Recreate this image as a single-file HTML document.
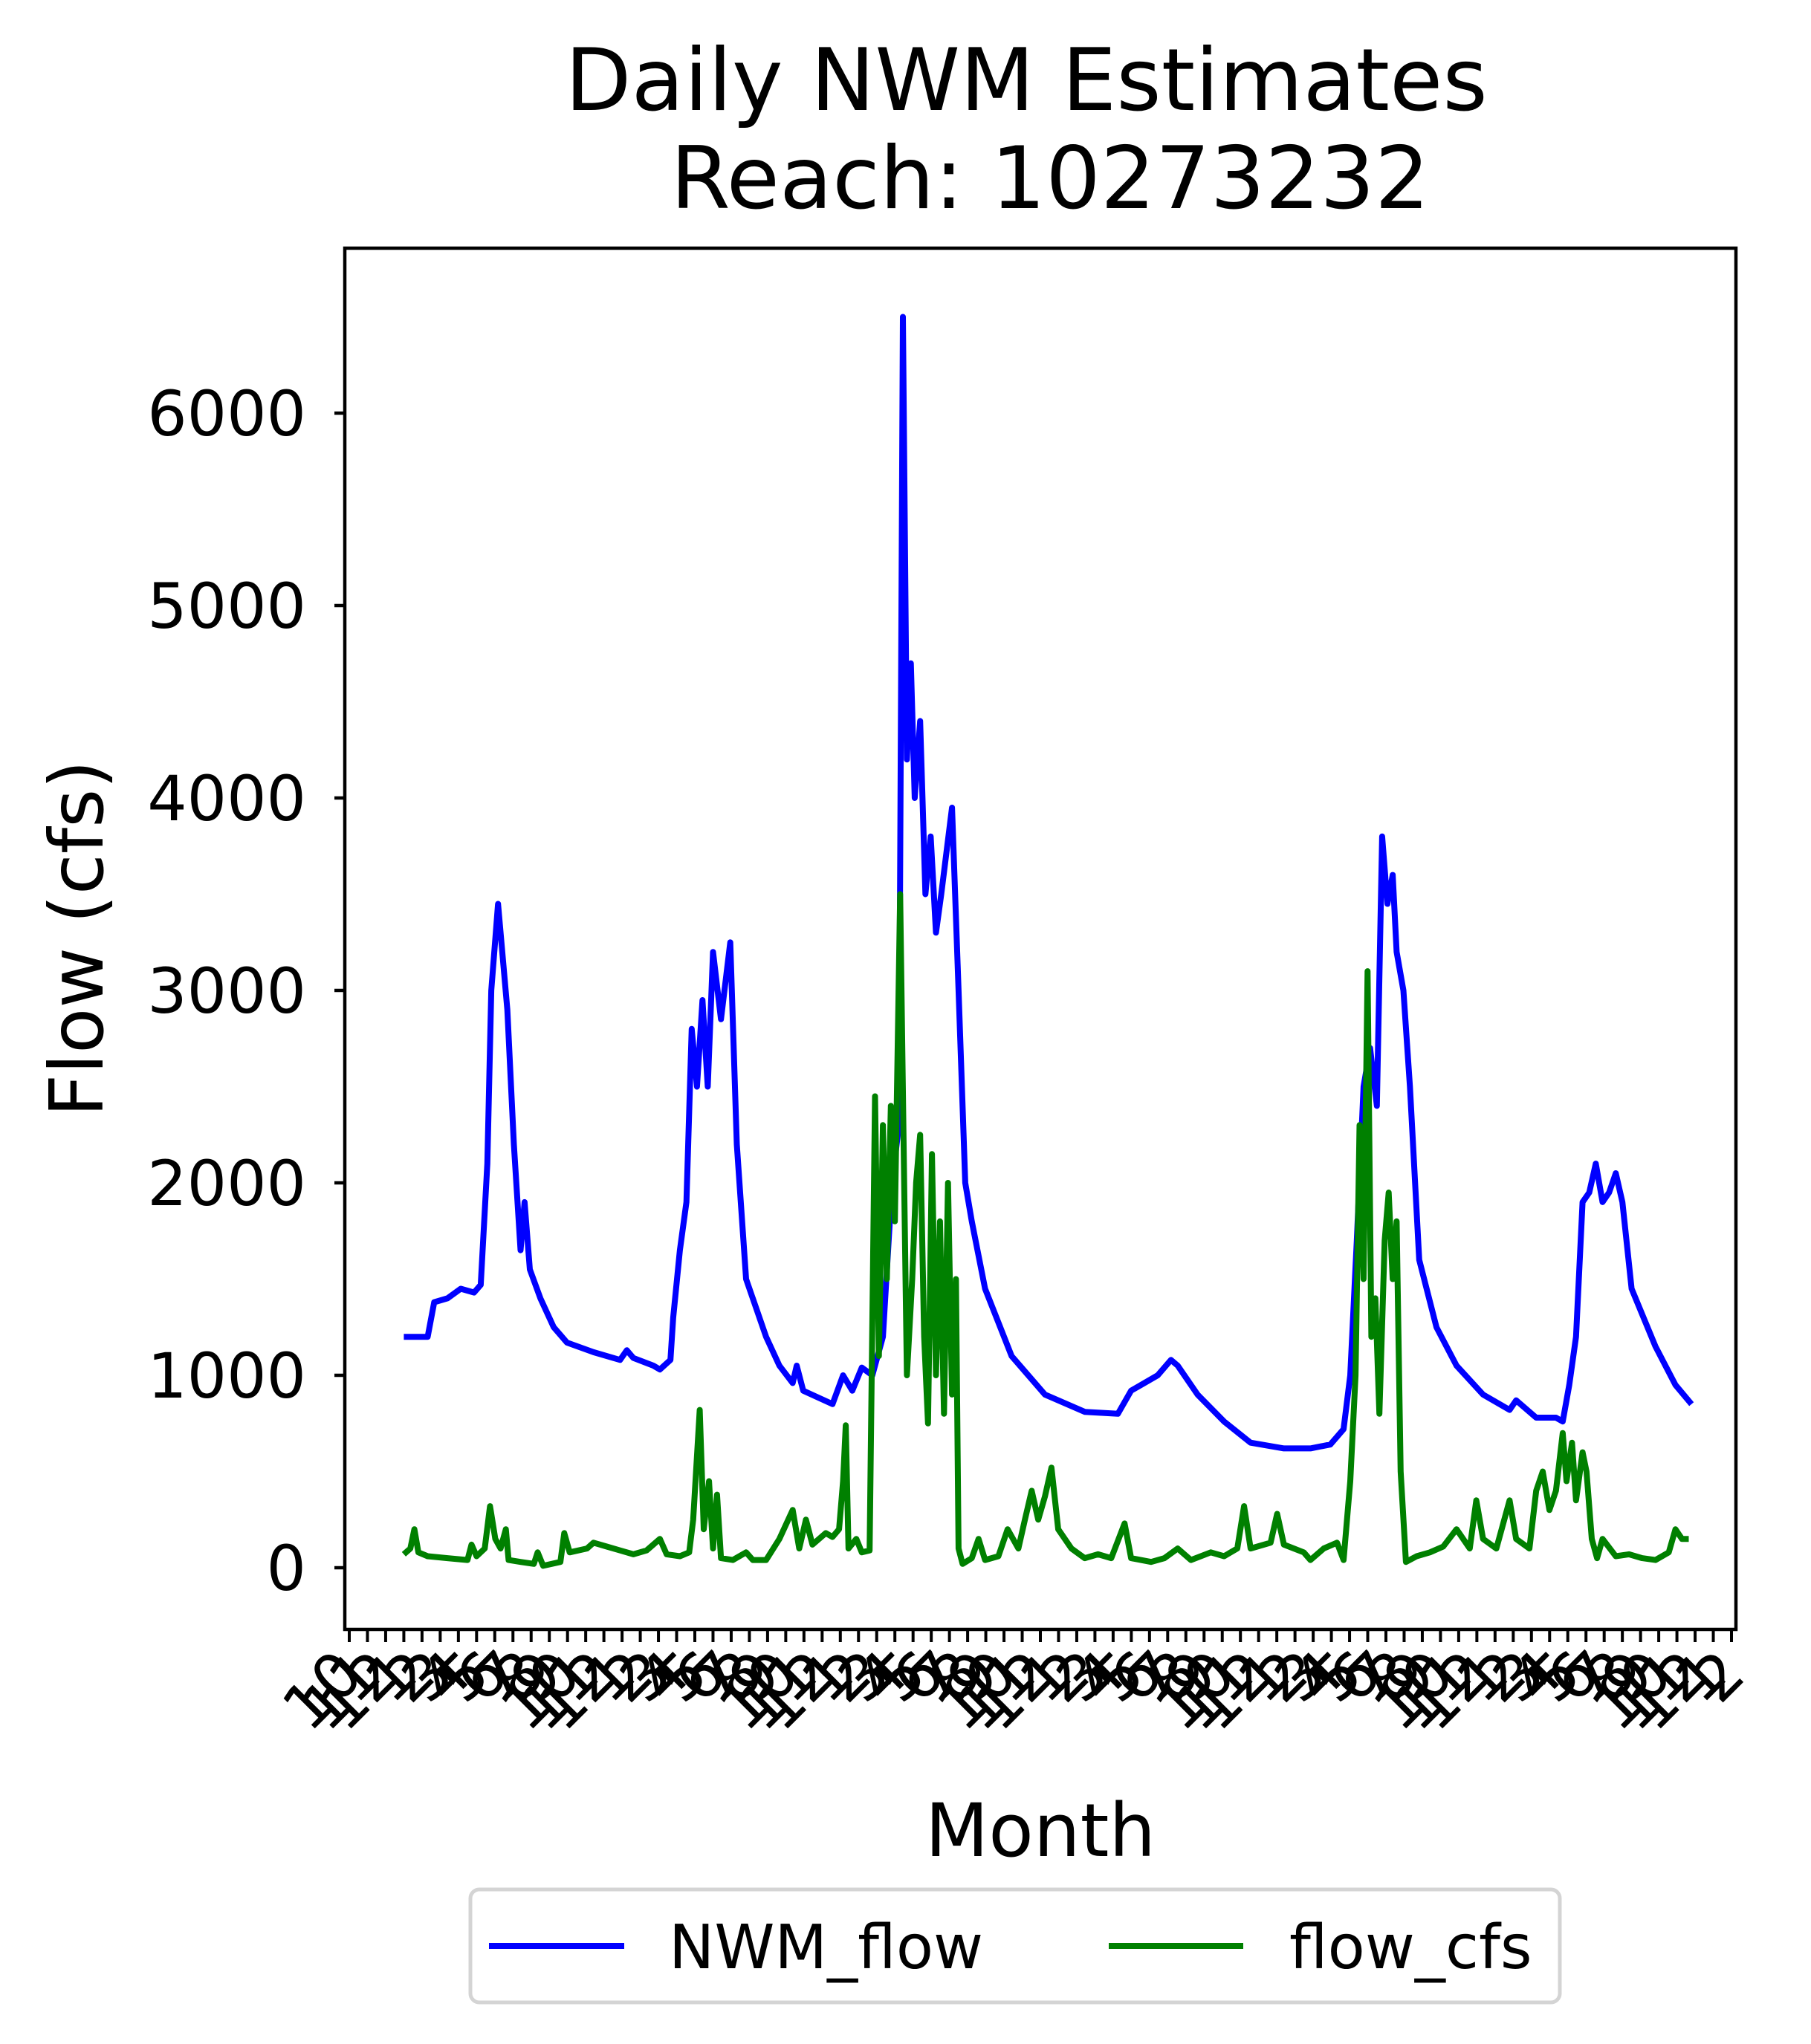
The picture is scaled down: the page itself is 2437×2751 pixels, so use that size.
<!DOCTYPE html>
<html><head><meta charset="utf-8"><style>
html,body{margin:0;padding:0;background:#fff;}
svg{display:block;font-family:"DejaVu Sans","Liberation Sans",sans-serif;}
</style></head><body>
<svg id="chart" width="2437" height="2751" viewBox="0 0 2437 2751" xmlns="http://www.w3.org/2000/svg">
<rect x="0" y="0" width="2437" height="2751" fill="#fff"/>
<text x="1381" y="148" font-size="116" text-anchor="middle">Daily NWM Estimates</text>
<text x="1413" y="280" font-size="116" text-anchor="middle">Reach: 10273232</text>
<g id="plot"></g>
<rect x="464" y="334" width="1872" height="1859" fill="none" stroke="#000" stroke-width="4.5"/>
<text transform="translate(138,1263) rotate(-90)" font-size="100" text-anchor="middle">Flow (cfs)</text>
<text x="1400" y="2498" font-size="99" text-anchor="middle">Month</text>
<g>
<rect x="633" y="2543" width="1466" height="152" rx="12" fill="#fff" stroke="#d4d4d4" stroke-width="5"/>
<line x1="658" y1="2619" x2="840" y2="2619" stroke="#0000ff" stroke-width="8"/>
<text x="900" y="2649" font-size="82">NWM_flow</text>
<line x1="1492" y1="2619" x2="1673" y2="2619" stroke="#008000" stroke-width="8"/>
<text x="1735" y="2649" font-size="82">flow_cfs</text>
</g>
</svg>
<script>
const yTicks=[0,1000,2000,3000,4000,5000,6000];
const nwmMonth=[3.0,3.94,4.31,4.67,5.4,6.13,6.86,7.23,7.59,7.81,8.18,8.69,9.05,9.42,9.64,9.93,10.51,11.24,11.97,13.43,14.89,15.26,15.62,16.72,17.08,17.66,17.81,18.18,18.54,18.83,19.12,19.42,19.71,20.0,20.44,20.95,21.31,21.82,22.92,23.65,24.38,24.6,24.96,26.57,27.15,27.66,28.18,28.76,29.34,29.85,30.22,30.44,30.66,30.88,31.09,31.39,31.68,31.97,32.26,32.55,33.14,33.5,33.87,34.23,34.96,36.42,38.25,40.44,42.26,42.99,43.72,44.45,45.18,45.55,46.64,48.1,49.56,51.39,52.85,53.94,54.67,55.04,55.4,55.77,56.13,56.5,56.79,57.08,57.37,57.59,57.96,58.32,58.83,59.78,60.88,62.34,63.8,64.16,65.26,66.35,66.72,67.08,67.45,67.81,68.18,68.54,68.91,69.27,69.64,70.0,70.51,71.82,72.92,73.8];
const nwmFlow=[1200,1200,1200,1380,1400,1450,1430,1470,2100,3000,3450,2900,2200,1650,1900,1550,1400,1250,1170,1120,1080,1130,1090,1050,1030,1080,1300,1650,1900,2800,2500,2950,2500,3200,2850,3250,2200,1500,1200,1050,960,1050,920,850,1000,920,1040,1000,1200,2000,2300,6500,4200,4700,4000,4400,3500,3800,3300,3500,3950,3000,2000,1800,1450,1100,900,810,800,920,960,1000,1080,1050,900,760,650,620,620,640,720,1000,1700,2500,2700,2400,3800,3450,3600,3200,3000,2500,1600,1250,1050,900,820,870,780,780,760,950,1200,1900,1950,2100,1900,1950,2050,1900,1450,1150,950,850];
const obsMonth=[3.0,3.36,3.58,3.8,4.31,5.4,6.5,6.72,7.0,7.45,7.74,8.03,8.32,8.61,8.76,9.42,10.15,10.36,10.66,11.61,11.82,12.12,13.07,13.43,14.16,14.89,15.62,16.35,17.08,17.45,18.18,18.69,18.91,19.27,19.49,19.78,20.0,20.22,20.44,21.09,21.82,22.19,22.92,23.65,24.38,24.74,25.11,25.47,26.2,26.57,26.93,27.15,27.3,27.45,27.88,28.18,28.61,28.91,29.12,29.34,29.56,29.78,30.0,30.29,30.51,30.66,30.95,31.17,31.39,31.61,31.82,32.04,32.26,32.48,32.7,32.92,33.14,33.36,33.5,33.72,34.23,34.6,34.96,35.69,36.2,36.79,37.15,37.52,37.88,38.25,38.61,38.98,39.71,40.44,41.17,41.9,42.63,42.99,44.09,44.82,45.55,46.28,47.37,48.1,48.83,49.2,49.56,50.66,51.02,51.39,52.48,52.85,53.58,54.31,54.67,55.04,55.33,55.55,55.77,55.99,56.2,56.42,56.64,56.93,57.15,57.37,57.59,57.81,58.1,58.69,59.42,60.15,60.88,61.61,61.97,62.34,63.07,63.8,64.16,64.89,65.26,65.62,65.99,66.35,66.72,66.93,67.23,67.45,67.81,68.03,68.32,68.61,68.91,69.64,70.36,71.09,71.82,72.55,72.92,73.28,73.65];
const obsFlow=[70,100,200,80,60,50,40,120,60,100,320,150,100,200,40,30,20,80,10,30,180,80,100,130,110,90,70,90,150,70,60,80,250,820,200,450,100,380,50,40,80,40,40,150,300,100,250,120,180,160,200,450,740,100,150,80,90,2450,1100,2300,1500,2400,1800,3500,2000,1000,1500,2000,2250,1200,750,2150,1000,1800,800,2000,900,1500,100,20,50,150,40,60,200,100,250,400,250,370,520,200,100,50,70,50,230,50,30,50,100,40,80,60,100,320,100,130,280,120,80,40,100,130,40,450,1000,2300,1500,3100,1200,1400,800,1700,1950,1500,1800,500,30,60,80,110,200,100,350,150,100,350,150,100,400,500,300,400,700,450,650,350,600,500,150,50,150,60,70,50,40,80,200,150,150];
const tickCount=77;
const xTickLabels=[];
for(let i=0;i<tickCount;i++){xTickLabels.push(String((9+i)%12+1));}

const NS='http://www.w3.org/2000/svg';
const X0=470,X1=2330,Y0=2110,PER=259;
const xS=m=>X0+(X1-X0)*m/(tickCount-1);
const yS=v=>Y0-v*PER/1000;
const svg=document.getElementById('chart');
const plot=document.getElementById('plot');
function mk(t,a){const e=document.createElementNS(NS,t);for(const k in a)e.setAttribute(k,a[k]);return e;}
yTicks.forEach(v=>{
  const l=mk('line',{x1:450,x2:464,y1:yS(v),y2:yS(v),stroke:'#000','stroke-width':4.5});
  
  
  svg.appendChild(l);
  const t=mk('text',{x:412,y:yS(v)+30,'font-size':84,'text-anchor':'end'});
  
  
  t.textContent=v;svg.appendChild(t);
});
xTickLabels.forEach((lab,i)=>{
  const x=xS(i);
  const l=mk('line',{x1:x,x2:x,y1:2193,y2:2210,stroke:'#000','stroke-width':4});
  
  
  svg.appendChild(l);
  const t=mk('text',{transform:'translate('+(x+22)+',2258) rotate(-45)','font-size':84,'text-anchor':'end'});
  
  
  t.textContent=lab;svg.appendChild(t);
});
function series(xs,vs,color,name){
  const d=xs.map((m,i)=>(i?'L':'M')+xS(m).toFixed(1)+' '+yS(vs[i]).toFixed(1)).join(' ');
  const p=mk('path',{d:d,fill:'none',stroke:color,'stroke-width':8,'stroke-linejoin':'round'});
  
  
  plot.appendChild(p);
}
series(nwmMonth,nwmFlow,'#0000ff','nwm-flow-line');
series(obsMonth,obsFlow,'#008000','flow-cfs-line');
</script>
</body></html>
